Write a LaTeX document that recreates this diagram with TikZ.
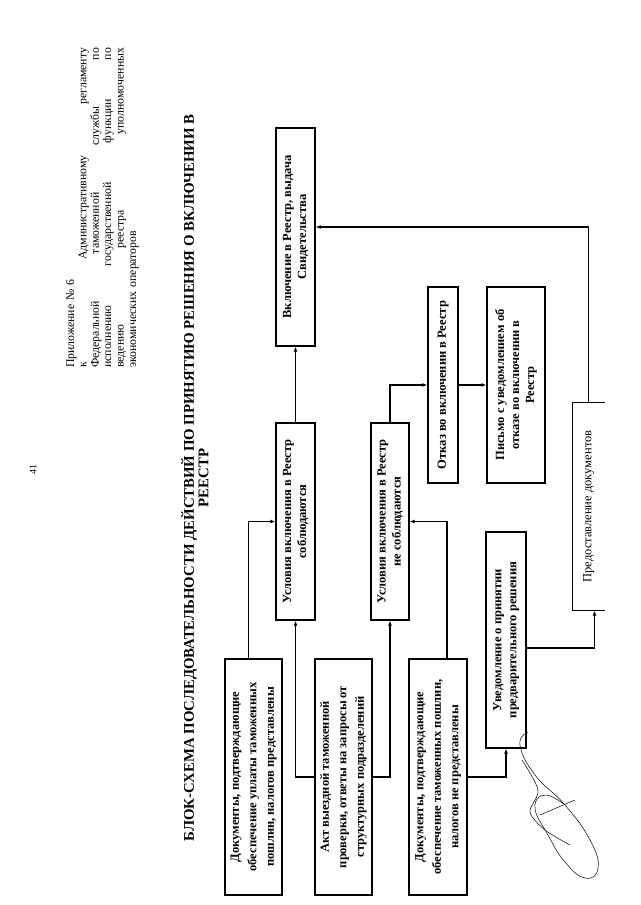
\documentclass[tikz,border=0pt]{standalone}
\usepackage{fontspec}
\setmainfont{Liberation Serif}
\usetikzlibrary{arrows.meta}

\begin{document}
\begin{tikzpicture}[
    x=1pt, y=-1pt,
    block/.style={draw, line width=1.3pt, rotate=90, align=center, inner sep=1pt,
      font=\bfseries\fontsize{12.5}{15}\selectfont},
    docblock/.style={block, font=\bfseries\fontsize{12.5}{17.5}\selectfont},
    flow/.style={-{Latex[length=5pt,width=4pt]}, line width=1.2pt}
    ]
    \useasboundingbox (0,0) rectangle (640,905);

    \node[rotate=90, anchor=north west, text width=320pt, align=left, inner sep=0pt,
      font=\fontsize{11.8}{12.4}\selectfont] (head) at (66,368)
      {Приложение № 6\\
       к\hfill\hfill Административному\hfill регламенту\\
       Федеральной\hfill таможенной\hfill службы\hfill по\\
       исполнению\hfill государственной\hfill функции\hfill по\\
       ведению\hfill реестра\hfill уполномоченных\\
       экономических операторов};
    \node[rotate=90, font=\fontsize{10}{12}\selectfont, inner sep=0pt] (pnum) at (33,469) {41};
    \node[rotate=90, align=center, inner sep=0pt,
      font=\bfseries\fontsize{14.8}{14.5}\selectfont] (title) at (195,478)
      {БЛОК-СХЕМА ПОСЛЕДОВАТЕЛЬНОСТИ ДЕЙСТВИЙ ПО ПРИНЯТИЮ РЕШЕНИЯ О ВКЛЮЧЕНИИ В\\РЕЕСТР};

    \node[block, minimum width=218pt, minimum height=39pt] (incl) at (295.5,237)
      {Включение в Реестр, выдача\\Свидетельства};
    \node[block, minimum width=197pt, minimum height=39pt] (met) at (295.5,521.5)
      {Условия включения в Реестр\\соблюдаются};
    \node[block, minimum width=197pt, minimum height=38pt] (unmet) at (390,521.5)
      {Условия включения в Реестр\\не соблюдаются};
    \node[block, minimum width=196pt, minimum height=30pt] (refuse) at (443,385)
      {Отказ во включении в Реестр};
    \node[block, minimum width=196pt, minimum height=58pt] (letter) at (516,385)
      {Письмо с уведомлением об\\отказе во включении в\\Реестр};
    \node[docblock, minimum width=236pt, minimum height=57pt] (docsok) at (253.5,777)
      {Документы, подтверждающие\\обеспечение уплаты таможенных\\пошлин, налогов представлены};
    \node[docblock, minimum width=236pt, minimum height=57pt] (audit) at (343.5,777)
      {Акт выездной таможенной\\проверки, ответы на запросы от\\структурных подразделений};
    \node[docblock, minimum width=236pt, minimum height=58pt] (docsno) at (438,777)
      {Документы, подтверждающие\\обеспечение таможенных пошлин,\\налогов не представлены};
    \node[block, minimum width=216pt, minimum height=40pt] (notice) at (506,640)
      {Уведомление о принятии\\предварительного решения};
    \node[block, draw=none, font=\fontsize{12.5}{15}\selectfont,
      minimum width=207pt, minimum height=31pt] (submit) at (588.5,506.5)
      {Предоставление документов};
    \draw[line width=1.3pt] (submit.south east) -- (submit.north east)
      -- (submit.north west) -- (submit.south west);

    \draw[flow] ([xshift=-5pt]docsok.east) |- (met.north);
    \draw[flow] (audit.north) -| (met.west);
    \draw[flow] (audit.south) -| (unmet.west);
    \draw[flow] ([xshift=9pt]docsno.east) |- (unmet.south);
    \draw[flow] (docsno.south) -| (notice.west);
    \draw[flow] (met.east) -- (incl.west);
    \draw[flow] (unmet.east) |- (refuse.north);
    \draw[flow] (refuse.south) -- (letter.north);
    \draw[flow] ([yshift=-8pt]notice.south) -| ([xshift=6pt]submit.west);
    \draw[flow] (submit.east) |- ([yshift=10pt]incl.south);

    % signature
    \draw[line width=0.5pt] plot[smooth, tension=0.8] coordinates {(528,732) (520,745)
      (535,775) (565,805) (590,840) (598,868) (585,878) (565,862) (548,835) (535,808)
      (545,795) (565,805)};
    \draw[line width=0.5pt] plot[smooth] coordinates {(522,760) (538,790) (530,812)
      (545,830) (570,845)};
    \draw[line width=0.5pt] (540,815) -- (575,800);
\end{tikzpicture}
\end{document}
